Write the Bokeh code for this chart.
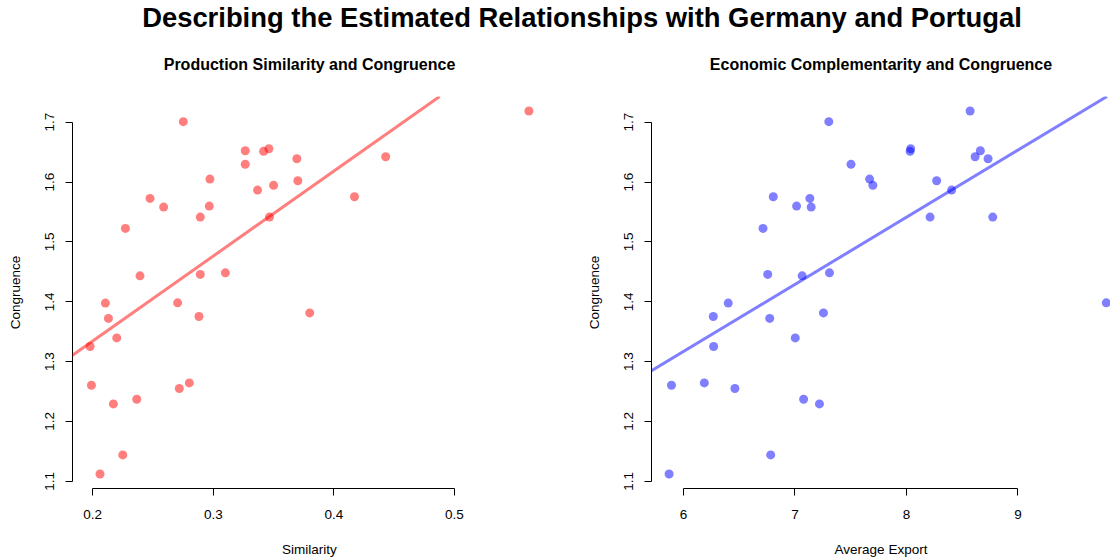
import numpy as np
from bokeh.plotting import figure
from bokeh.models import Range1d, FixedTicker, Slope, Div
from bokeh.layouts import column, row
from bokeh.embed import file_html
from bokeh.resources import INLINE

main_title = "Describing the Estimated Relationships with Germany and Portugal"
title_left = "Production Similarity and Congruence"
title_right = "Economic Complementarity and Congruence"
xlabel_left = "Similarity"
xlabel_right = "Average Export"
ylabel = "Congruence"

congruence = [1.701, 1.7187, 1.6557, 1.6513, 1.6523, 1.639, 1.6423, 1.6296, 1.605,
              1.6022, 1.5945, 1.5866, 1.5727, 1.5754, 1.5582, 1.5599, 1.5415, 1.5415,
              1.5226, 1.4483, 1.4457, 1.4433, 1.3977, 1.3982, 1.3813, 1.3754, 1.3721,
              1.3396, 1.3253, 1.2605, 1.2644, 1.255, 1.2371, 1.2293, 1.144, 1.1122]
similarity = [0.2751, 0.5618, 0.3461, 0.3417, 0.3265, 0.3693, 0.443, 0.3265, 0.2972,
              0.3701, 0.35, 0.3367, 0.2475, 0.4171, 0.2588, 0.2967, 0.2892, 0.3466,
              0.2271, 0.31, 0.2892, 0.2392, 0.2105, 0.2704, 0.38, 0.2881, 0.213,
              0.2199, 0.1978, 0.1989, 0.2801, 0.2718, 0.2365, 0.2171, 0.2249, 0.206]
avg_export = [7.304, 8.571, 8.038, 8.033, 8.663, 8.732, 8.616, 7.503, 7.670,
              8.271, 7.699, 8.405, 7.134, 6.806, 7.146, 7.015, 8.774, 8.212,
              6.714, 7.31, 6.756, 7.065, 6.402, 9.792, 7.256, 6.268, 6.774,
              7.003, 6.271, 5.893, 6.1875, 6.462, 7.078, 7.22, 6.783, 5.872]

x_ticks_left = [0.2, 0.3, 0.4, 0.5]
x_ticks_right = [6, 7, 8, 9]
y_ticks = [1.1, 1.2, 1.3, 1.4, 1.5, 1.6, 1.7]

FONT = "Liberation Sans"
FS = "13.5px"
DIV_H = 29
FIG_H = 559 - DIV_H


def make_panel(x, y, title, xlabel, color, xr, xticks, width, bl, br):
    p = figure(width=width, height=FIG_H, x_range=Range1d(*xr), y_range=Range1d(1.0879, 1.7430),
               output_backend="svg", toolbar_location=None, title=title,
               min_border_left=bl, min_border_right=br, min_border_top=0, min_border_bottom=69)
    p.outline_line_color = None
    p.grid.visible = False
    p.background_fill_color = "white"
    p.border_fill_color = None

    p.title.text_font = FONT
    p.title.text_font_size = "16px"
    p.title.text_font_style = "bold"
    p.title.align = "center"
    p.title.text_color = "black"
    p.title.standoff = 48

    for ax in (p.xaxis[0], p.yaxis[0]):
        ax.axis_line_color = "black"
        ax.major_tick_line_color = "black"
        ax.minor_tick_line_color = None
        ax.major_tick_out = 7
        ax.major_tick_in = 0
        ax.major_label_text_font = FONT
        ax.major_label_text_font_size = FS
        ax.major_label_text_color = "black"
        ax.axis_label_text_font = FONT
        ax.axis_label_text_font_size = FS
        ax.axis_label_text_font_style = "normal"
        ax.axis_label_text_color = "black"

    p.xaxis.ticker = FixedTicker(ticks=xticks)
    p.yaxis.ticker = FixedTicker(ticks=y_ticks)
    p.xaxis.bounds = (xticks[0], xticks[-1])
    p.yaxis.bounds = (y_ticks[0], y_ticks[-1])
    p.xaxis.axis_label = xlabel
    p.yaxis.axis_label = ylabel
    p.xaxis.major_label_standoff = 14
    p.xaxis.axis_label_standoff = 20
    p.yaxis.major_label_standoff = 11
    p.yaxis.axis_label_standoff = 20
    p.yaxis.major_label_orientation = "vertical"

    b, a = np.polyfit(np.array(x), np.array(y), 1)
    p.add_layout(Slope(gradient=float(b), y_intercept=float(a), line_color=color,
                       line_alpha=0.5, line_width=3))
    p.scatter(x, y, size=9, fill_color=color, fill_alpha=0.5, line_color=None)
    return p


p1 = make_panel(similarity, congruence, title_left, xlabel_left, "#FF0000",
                (0.1832, 0.5764), x_ticks_left, 583, 72, 37)
p2 = make_panel(avg_export, congruence, title_right, xlabel_right, "#0000FF",
                (5.714, 9.830), x_ticks_right, 527, 66, 0)

div = Div(text=('<div style="width:1040px;margin-left:62px;text-align:center;'
                "font-family:'Liberation Sans',Arial,sans-serif;font-weight:bold;"
                'font-size:27.4px;line-height:27px;position:relative;top:4px;'
                'white-space:nowrap;color:#000">' + main_title + '</div>'),
          width=1110, height=DIV_H, margin=(0, 0, 0, 0))

layout = column(div, row(p1, p2))

open("out.html", "w").write(file_html(layout, INLINE))
